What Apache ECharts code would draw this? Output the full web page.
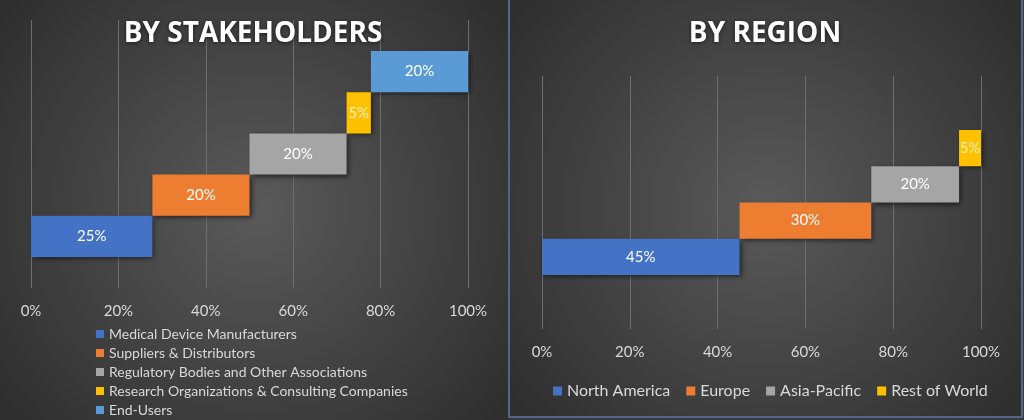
<!DOCTYPE html>
<html><head><meta charset="utf-8">
<script src="https://cdn.jsdelivr.net/npm/echarts@6/dist/echarts.min.js"></script>
<style>html,body{margin:0;padding:0;background:#3a3a3a;}#c{width:1024px;height:420px;}</style>
</head><body><div id="c"></div>
<script>
// Data
const stakeCategories = ['Medical Device Manufacturers','Suppliers & Distributors','Regulatory Bodies and Other Associations','Research Organizations & Consulting Companies','End-Users'];
const stakeValues = [25, 20, 20, 5, 20];
const stakeColors = ['#4472C4','#ED7D31','#A5A5A5','#FFC000','#5B9BD5'];
const regionCategories = ['North America','Europe','Asia-Pacific','Rest of World'];
const regionValues = [45, 30, 20, 5];
const regionColors = ['#4472C4','#ED7D31','#A5A5A5','#FFC000'];
const tickPercents = ['0%','20%','40%','60%','80%','100%'];

const FONT = 'Lato';
const chart = echarts.init(document.getElementById('c'), null, {renderer:'canvas'});

function buildSeries(cats, vals, colors, xIdx, yIdx, labelColors) {
  const series = [];
  const base = [];
  let acc = 0;
  vals.forEach((v,i)=>{ base.push(acc); acc += v; });
  series.push({
    type:'bar', stack:'s'+xIdx, xAxisIndex:xIdx, yAxisIndex:yIdx,
    data: base, itemStyle:{color:'transparent'}, silent:true, barCategoryGap:'0%',
    emphasis:{disabled:true}, tooltip:{show:false}
  });
  cats.forEach((c,i)=>{
    const d = vals.map((v,j)=> j===i ? v : '-');
    series.push({
      type:'bar', name:c, stack:'s'+xIdx, xAxisIndex:xIdx, yAxisIndex:yIdx,
      data:d, barCategoryGap:'0%',
      itemStyle:{color:colors[i], shadowBlur:5, shadowOffsetX:2, shadowOffsetY:2, shadowColor:'rgba(0,0,0,0.55)'},
      label:{show:true, position:'inside', formatter:p=>p.value+'%', color:(labelColors&&labelColors[i])||'#ffffff', fontFamily:FONT, fontSize:15}
    });
  });
  return {series, total: acc};
}

const L = buildSeries(stakeCategories, stakeValues, stakeColors, 1, 1, [null,null,null,'#fff2c2',null]);
const R = buildSeries(regionCategories, regionValues, regionColors, 3, 3, [null,null,null,'#fff2c2']);

function valAxis(grid, total, show) {
  return {
    type:'value', gridIndex:grid, min:0, max:total, interval:total/5,
    axisLine:{show:false}, axisTick:{show:false},
    splitLine:{show:show, lineStyle:{color:'#6e6e6e', width:1}},
    axisLabel:{show:show, margin:16, color:'#d9d9d9', fontFamily:FONT, fontSize:15,
      formatter:(v)=> tickPercents[Math.round(v/total*5)] }
  };
}
function catAxis(grid, cats) {
  return {type:'category', gridIndex:grid, data:cats, show:false, axisLine:{show:false}};
}

const bgFill = {type:'radial', x:0.5, y:0.5, r:0.75, colorStops:[{offset:0,color:'#5a5a5a'},{offset:1,color:'#2f2f2f'}]};
const titleStyle = {fill:'#ffffff', font:'bold 28px "Open Sans"', align:'center', verticalAlign:'middle',
  textShadowColor:'rgba(0,0,0,0.6)', textShadowBlur:4, textShadowOffsetY:1};

const option = {
  animation:false,
  backgroundColor:'transparent',
  graphic:[
    {type:'rect', z:-10, shape:{x:0,y:0,width:509,height:420}, style:{fill:bgFill}},
    {type:'rect', z:-10, shape:{x:509,y:-2,width:513,height:419}, style:{fill:bgFill, stroke:'#56648c', lineWidth:2}},
    {type:'text', x:253, y:34, z:10, style:Object.assign({text:'BY STAKEHOLDERS'}, titleStyle)},
    {type:'text', x:765, y:34, z:10, style:Object.assign({text:'BY REGION'}, titleStyle)}
  ],
  grid:[
    {left:31, width:437, top:20, height:268},
    {left:31, width:437, top:51, height:206},
    {left:542, width:439, top:76, height:253},
    {left:542, width:439, top:130, height:145}
  ],
  xAxis:[valAxis(0, L.total, true), valAxis(1, L.total, false), valAxis(2, R.total, true), valAxis(3, R.total, false)],
  yAxis:[catAxis(0, stakeCategories), catAxis(1, stakeCategories), catAxis(2, regionCategories), catAxis(3, regionCategories)],
  legend:[
    {data:stakeCategories, orient:'vertical', left:96, top:326, padding:0, itemWidth:8, itemHeight:8, itemGap:3, icon:'rect',
      textStyle:{color:'#d9d9d9', fontFamily:FONT, fontSize:14, lineHeight:16, padding:[0,0,0,0]}},
    {data:regionCategories, orient:'horizontal', left:553, top:383, padding:0, itemWidth:9, itemHeight:9, itemGap:16, icon:'rect',
      textStyle:{color:'#d9d9d9', fontFamily:FONT, fontSize:16, padding:[0,0,0,0]}}
  ],
  series: L.series.concat(R.series)
};
chart.setOption(option);
</script></body></html>
